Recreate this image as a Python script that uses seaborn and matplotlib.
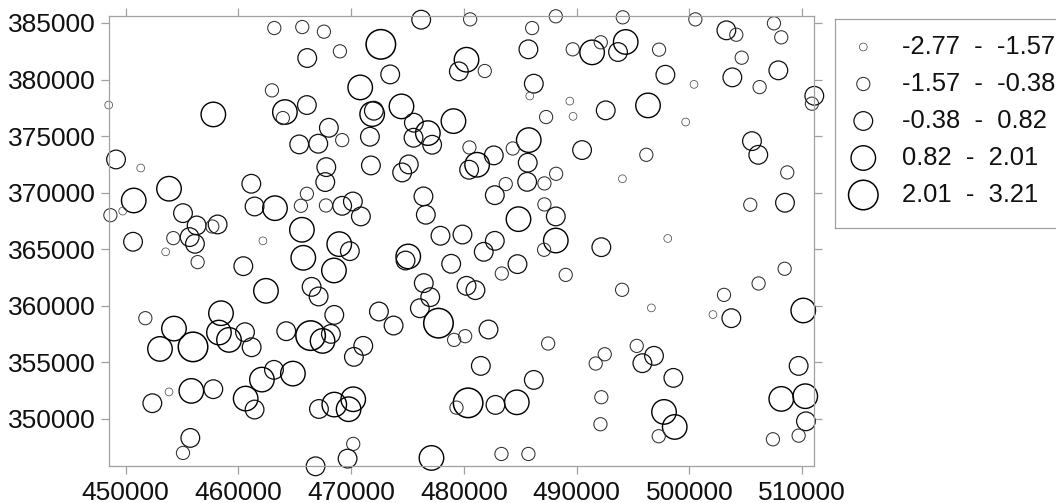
import matplotlib
matplotlib.use('Agg')
import matplotlib.pyplot as plt
import pandas as pd
import seaborn as sns

# easting, northing and class of each sample
east = [463180, 465660, 467580, 476210, 472630, 469000, 466100, 473460, 470800, 462970,
        448490, 457770, 464120, 463940, 466070, 471860, 472010, 474460, 475560, 476800,
        475530, 477180, 479070, 468020, 469200, 465390, 467080, 471660, 471750, 475110,
        474520, 449140, 451330, 467790, 467700, 461140, 453840, 466070, 450710, 476410,
        448640, 449730, 455080, 465540, 467760, 469200, 470150, 470860, 461430, 463240,
        476620, 456290, 458150, 457680, 465630, 455670, 456140, 454220, 450650, 453540,
        456380, 462170, 460430, 465750, 468940, 469880, 468470, 475060, 474820, 477920,
        478870, 479870, 476440, 477010, 476090, 477740, 479130, 480110, 462440, 466490,
        467110, 468500, 451740, 458450, 454280, 458270, 460580, 459160, 461170, 453040,
        455970, 464240, 466400, 468200, 467460, 472460, 473760, 471070, 470240, 463150,
        464830, 462080, 460640, 461430, 455820, 457770, 453840, 452360, 455730, 455080,
        467140, 468500, 470180, 469770, 470180, 469680, 466840, 477120, 482740, 481760,
        484840, 488150, 487110, 492190, 498080, 484750, 483360, 489030, 480230, 481020,
        494030, 496630, 503070, 506140, 508450, 502090, 503720, 510100, 482180, 487470,
        481500, 492490, 491690, 495330, 496860, 495830, 498580, 509690, 486200, 484690,
        482800, 480370, 479340, 492190, 492110, 497750, 498700, 497280, 508150, 510280,
        510340, 509690, 507410, 483330, 485720, 480550, 486050, 488150, 494090, 500530,
        503280, 504160, 507500, 508150, 504640, 480230, 479550, 481850, 485720, 489650,
        491370, 492140, 493670, 494350, 497310, 497870, 500410, 503810, 506230, 507890,
        511080, 510870, 486200, 485840, 489390, 489680, 492580, 496330, 499670, 487290,
        485750, 484330, 480490, 482650, 481170, 480460, 485660, 485610, 488180, 487140,
        483710, 482740, 490480, 496180, 494060, 505550, 506110, 508680, 505400, 508480,
        487140, 488150]
north = [384550, 384640, 384230, 385290, 383110, 382490, 381900, 380450, 379300, 379040,
         377740, 376910, 377120, 376590, 377740, 376940, 377240, 377620, 376180, 375260,
         374850, 374230, 376320, 375730, 374640, 374260, 374320, 374940, 372400, 372490,
         371780, 372930, 372170, 372250, 370930, 370780, 370340, 369890, 369300, 369660,
         368000, 368360, 368180, 368830, 368860, 368830, 369210, 367890, 368770, 368620,
         368040, 367090, 367180, 367000, 366710, 366060, 365470, 365970, 365650, 364760,
         363850, 365730, 363490, 364230, 365440, 364820, 363110, 364350, 363990, 366180,
         363700, 366290, 361990, 360750, 359770, 358450, 356970, 357300, 361310, 361660,
         360810, 359180, 358890, 359330, 357970, 357620, 357650, 356970, 356320, 356170,
         356350, 357740, 357350, 357500, 356880, 359480, 358240, 356440, 355470, 354320,
         353990, 353460, 351780, 350810, 352460, 352610, 352370, 351370, 348300, 346970,
         350860, 351250, 351720, 350840, 347770, 346470, 345790, 346530, 365730, 364760,
         367650, 365760, 364940, 365170, 365940, 363670, 362840, 362720, 361750, 361370,
         361400, 359800, 360950, 361960, 363260, 359210, 358890, 359570, 357890, 356650,
         354670, 355700, 354880, 356440, 355560, 354910, 353610, 354670, 353430, 351450,
         351220, 351400, 350980, 351900, 349510, 350600, 349270, 348450, 351750, 351990,
         349770, 348500, 348180, 346880, 346880, 385320, 384550, 385590, 385500, 385320,
         384350, 383960, 384970, 383730, 381930, 381750, 380720, 380750, 382670, 382670,
         382400, 383290, 382430, 383320, 382640, 380420, 379570, 380190, 379330, 380810,
         378560, 377860, 379630, 378540, 378090, 376740, 377270, 377710, 376240, 376680,
         374640, 373900, 373990, 373290, 372460, 372020, 372640, 370950, 371660, 370810,
         370750, 369770, 373760, 373340, 371220, 374550, 373340, 371780, 368920, 369100,
         368950, 367890]
level = [2, 2, 2, 3, 5, 2, 3, 3, 4, 2,
         1, 4, 4, 2, 3, 4, 3, 4, 3, 4,
         3, 3, 4, 3, 2, 3, 3, 3, 3, 3,
         3, 3, 1, 3, 3, 3, 4, 2, 4, 3,
         2, 1, 3, 2, 2, 3, 3, 3, 3, 4,
         3, 3, 3, 2, 4, 3, 3, 2, 3, 1,
         2, 1, 3, 4, 4, 3, 4, 4, 3, 3,
         3, 3, 3, 3, 3, 5, 2, 2, 4, 3,
         3, 3, 2, 4, 4, 4, 3, 4, 3, 4,
         5, 3, 5, 3, 4, 3, 3, 3, 3, 3,
         4, 4, 4, 3, 4, 3, 1, 3, 3, 2,
         3, 4, 4, 4, 2, 3, 3, 4, 3, 3,
         4, 4, 2, 3, 1, 3, 2, 2, 3, 3,
         2, 1, 2, 2, 2, 1, 3, 4, 3, 2,
         3, 2, 2, 2, 3, 3, 3, 3, 3, 4,
         3, 5, 2, 2, 2, 4, 4, 2, 4, 4,
         3, 2, 2, 2, 2, 2, 2, 2, 2, 2,
         3, 2, 2, 2, 2, 4, 3, 2, 3, 2,
         4, 2, 3, 4, 2, 3, 1, 3, 2, 3,
         3, 2, 3, 1, 1, 1, 3, 4, 1, 2,
         4, 2, 2, 3, 4, 3, 3, 3, 2, 2,
         2, 3, 3, 2, 1, 3, 3, 2, 2, 3,
         2, 3]

x_ticks = [450000, 460000, 470000, 480000, 490000, 500000, 510000]
y_ticks = [350000, 355000, 360000, 365000, 370000, 375000, 380000, 385000]
legend_levels = [1, 2, 3, 4, 5]
legend_labels = ['-2.77  -  -1.57', '-1.57  -  -0.38', '-0.38  -  0.82', '0.82  -  2.01', '2.01  -  3.21']

W, H = 1056, 503
GREY = '#a0a0a0'

# marker area in pt^2 for a path diameter in px
def area(d):
    return (d * 0.72) ** 2

level_sizes = {1: area(7.8), 2: area(13.2), 3: area(18.7), 4: area(24.5), 5: area(29.5)}
level_widths = {1: 0.55, 2: 0.75, 3: 0.9, 4: 1.0, 5: 1.1}
level_edges = {1: '#505050', 2: '#303030', 3: '#101010', 4: '#000000', 5: '#000000'}


def open_circles(ax, values):
    points = ax.collections[-1]
    points.set_facecolor('none')
    points.set_edgecolor([level_edges[v] for v in values])
    points.set_linewidth([level_widths[v] for v in values])
    points.set_clip_on(False)


sns.set_theme(style='white')
plt.rcParams['font.family'] = ['Liberation Sans', 'DejaVu Sans']

fig = plt.figure(figsize=(W / 100, H / 100), dpi=100)
ax = fig.add_axes([108.7 / W, 1 - 466.3 / H, 705.6 / W, 450 / H])

df = pd.DataFrame({'east': east, 'north': north, 'level': level})
sns.scatterplot(data=df, x='east', y='north', size='level', sizes=level_sizes,
                legend=False, ax=ax)
open_circles(ax, level)

ax.set_xlim(448490, 511080)
ax.set_ylim(345790, 385590)
ax.set_xticks(x_ticks)
ax.set_xticklabels([str(t) for t in x_ticks])
ax.set_yticks(y_ticks)
ax.set_yticklabels([str(t) for t in y_ticks])
ax.set_xlabel('')
ax.set_ylabel('')
ax.tick_params(axis='both', which='major', direction='out', length=6, width=0.9, color=GREY,
               labelsize=19, labelcolor='#111111', top=True, right=True, bottom=True, left=True)
ax.tick_params(axis='x', pad=4.5)
ax.tick_params(axis='y', pad=3)
for spine in ax.spines.values():
    spine.set_visible(True)
    spine.set_color(GREY)
    spine.set_linewidth(0.9)

# legend box, in pixel coordinates, runs off the right edge like the original
leg = fig.add_axes([835.3 / W, 1 - 228.3 / H, 300 / W, 209 / H])
leg.set_xlim(835.3, 1135.3)
leg.set_ylim(228.3, 19.3)
leg.set_xticks([])
leg.set_yticks([])
for spine in leg.spines.values():
    spine.set_color(GREY)
    spine.set_linewidth(0.9)

rows = [47 + 37 * i for i in range(len(legend_levels))]
leg_df = pd.DataFrame({'x': [863.3] * len(rows), 'y': rows, 'level': legend_levels})
sns.scatterplot(data=leg_df, x='x', y='y', size='level', sizes=level_sizes, legend=False, ax=leg)
open_circles(leg, legend_levels)
leg.set_xlabel('')
leg.set_ylabel('')
for y, label in zip(rows, legend_labels):
    leg.text(901.5, y, label, fontsize=18.4, color='#111111', va='center')

fig.savefig('out.png', dpi=100)
